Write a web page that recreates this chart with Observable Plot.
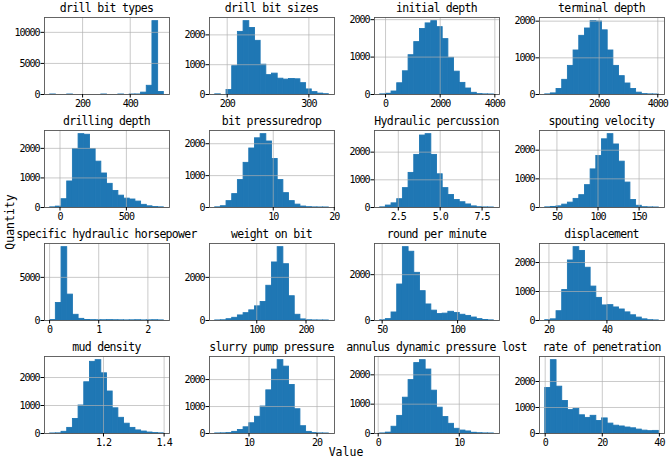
<!DOCTYPE html>
<html><head><meta charset="utf-8">
<script src="https://cdn.jsdelivr.net/npm/d3@7"></script>
<script src="https://cdn.jsdelivr.net/npm/@observablehq/plot@0.6"></script>
<style>
body{margin:0;background:#fff;}
#fig{position:relative;width:669px;height:462px;overflow:hidden;background:#fff;}
#fig svg{position:absolute;overflow:visible;}
#fig svg text{letter-spacing:-1px;}
.lbl{position:absolute;font-family:"DejaVu Sans Mono",monospace;color:#000;white-space:nowrap;}
</style></head><body><div id="fig"></div><script>
const titles = ["drill bit types","drill bit sizes","initial depth","terminal depth",
  "drilling depth","bit pressuredrop","Hydraulic percussion","spouting velocity",
  "specific hydraulic horsepower","weight on bit","round per minute","displacement",
  "mud density","slurry pump pressure","annulus dynamic pressure lost","rate of penetration"];
// data range (min, max) of each variable; each histogram has 20 equal bins
const rangeLo = [64, 185.3, -196, 159, -74, 0.49, 1.42, 35.7, 0.0125, 15.6, 48.7, 18.7, 1.0242, 5.03, 0.245, 0];
const rangeHi = [541, 324.4, 3963, 4035, 782, 19.1, 8.20, 174, 2.324, 246.3, 124.0, 57.9, 1.399, 21.73, 14.26, 39.8];
// bin counts
const drillBitTypes = [2,0,0,1,0,0,0,0,0,1,0,0,1,0,2,5,300,1400,11800,400];
const drillBitSizes = [5,0,150,950,2100,2460,2230,1800,1000,650,700,530,500,520,510,380,170,80,30,10];
const initialDepth = [3,20,80,300,620,1050,1400,1750,1900,1960,1800,1480,980,610,310,160,45,10,3,1];
const terminalDepth = [3,30,150,400,780,1200,1600,1800,2000,1990,1750,1200,780,500,300,150,50,10,3,1];
const drillingDepth = [5,30,280,880,1980,2480,2460,1980,1550,1150,800,560,400,300,270,200,90,40,15,5];
const bitPressureDrop = [5,40,200,420,860,1400,1850,2170,2300,2070,1520,860,450,200,90,30,10,3,1,1];
const hydraulicPercussion = [5,70,150,300,700,1250,1900,2600,2650,1900,1200,700,450,270,190,110,40,10,3,1];
const spoutingVelocity = [5,20,40,100,170,300,430,780,1330,1800,2380,2560,2200,1600,870,260,60,10,3,1];
const specificHydraulicHP = [50,2030,8500,3000,660,190,60,40,30,30,40,30,20,10,20,30,10,20,30,10];
const weightOnBit = [3,10,60,125,235,340,470,656,860,1610,2690,3400,2610,1125,265,50,10,3,1,1];
const roundPerMinute = [10,60,350,1570,3200,3000,2080,1280,700,430,280,300,380,330,250,200,130,60,20,5];
const displacement = [10,40,320,1050,2070,2530,2400,1820,1170,780,520,530,450,380,280,180,100,40,10,3];
const mudDensity = [1,5,60,200,520,1000,1830,2560,2620,2150,1500,900,560,350,200,110,70,35,15,5];
const slurryPumpPressure = [2,5,15,60,130,230,380,620,1000,1600,2370,2720,2480,1800,900,270,60,15,3,1];
const annulusPressureLost = [2,30,230,600,1220,1820,2400,2500,2180,1460,880,560,330,160,100,70,25,10,3,1];
const rateOfPenetration = [1750,2820,1800,1250,900,950,700,600,680,480,580,380,300,270,230,200,150,110,90,100];
const counts = [drillBitTypes, drillBitSizes, initialDepth, terminalDepth, drillingDepth, bitPressureDrop,
  hydraulicPercussion, spoutingVelocity, specificHydraulicHP, weightOnBit, roundPerMinute, displacement,
  mudDensity, slurryPumpPressure, annulusPressureLost, rateOfPenetration];
// tick values
const xTicks = [[200,400],[200,300],[0,2000,4000],[2000,4000],[0,500],[10,20],[2.5,5.0,7.5],[50,100,150],
  [0,1,2],[100,200],[50,100],[20,40],[1.2,1.4],[10,20],[0,10],[0,20,40]];
const xFormats = ["d","d","d","d","d","d",".1f","d","d","d","d","d",".1f","d","d","d"];
const yTicks = [[0,5000,10000],[0,1000,2000],[0,1000,2000],[0,1000,2000],[0,1000,2000],[0,1000,2000],
  [0,1000,2000],[0,1000,2000],[0,5000],[0,2000],[0,2000],[0,1000,2000],[0,1000,2000],[0,1000,2000],
  [0,1000,2000],[0,1000,2000]];
const xLabel = "Value", yLabel = "Quantity";

const fig = document.getElementById("fig");
const colLeft = [44, 209, 374, 539], rowTop = [17, 130, 243, 356];
const W = 125, H = 77;
const ml = 42, mr = 14, mt = 6, mb = 22;

counts.forEach((c, i) => {
  const lo = rangeLo[i], hi = rangeHi[i], R = hi - lo, bw = R / c.length;
  const bins = c.map((n, k) => ({x0: lo + k * bw, x1: lo + (k + 1) * bw, n}));
  const L = colLeft[i % 4], T = rowTop[Math.floor(i / 4)];
  const svg = Plot.plot({
    width: W + ml + mr, height: H + mt + mb,
    marginLeft: ml, marginRight: mr, marginTop: mt, marginBottom: mb,
    x: {domain: [lo - 0.05 * R, hi + 0.05 * R]},
    y: {domain: [0, d3.max(c) * 1.05]},
    style: {fontFamily: "'DejaVu Sans Mono', monospace", fontSize: "10px", background: "transparent", color: "#000"},
    marks: [
      Plot.rectY(bins, {x1: "x0", x2: "x1", y: "n", fill: "#1f77b4", stroke: "#1f77b4", strokeWidth: 0.9, inset: 0}),
      Plot.gridX(xTicks[i], {stroke: "#b0b0b0", strokeOpacity: 0.85, strokeWidth: 0.8}),
      Plot.gridY(yTicks[i], {stroke: "#b0b0b0", strokeOpacity: 0.85, strokeWidth: 0.8}),
      Plot.frame({stroke: "#555", strokeWidth: 0.9}),
      Plot.axisX(xTicks[i], {tickSize: 3.5, tickPadding: 1.5, label: null, tickFormat: d3.format(xFormats[i])}),
      Plot.axisY(yTicks[i], {tickSize: 3.5, tickPadding: 1.5, label: null, tickFormat: d3.format("d")})
    ]
  });
  svg.style.left = (L - ml) + "px";
  svg.style.top = (T - mt) + "px";
  fig.appendChild(svg);
  const t = document.createElement("div");
  t.className = "lbl";
  t.textContent = titles[i];
  t.style.cssText += `font-size:11.5px;letter-spacing:-0.7px;line-height:13px;left:${L + W / 2}px;top:${T - 15}px;transform:translateX(-50%);`;
  fig.appendChild(t);
});

const xl = document.createElement("div");
xl.className = "lbl"; xl.textContent = xLabel;
xl.style.cssText += "font-size:11.5px;line-height:14px;left:346px;top:445px;transform:translateX(-50%);";
fig.appendChild(xl);
const yl = document.createElement("div");
yl.className = "lbl"; yl.textContent = yLabel;
yl.style.cssText += "font-size:11.5px;line-height:14px;left:10px;top:222px;transform:translate(-50%,-50%) rotate(-90deg);";
fig.appendChild(yl);
</script></body></html>
